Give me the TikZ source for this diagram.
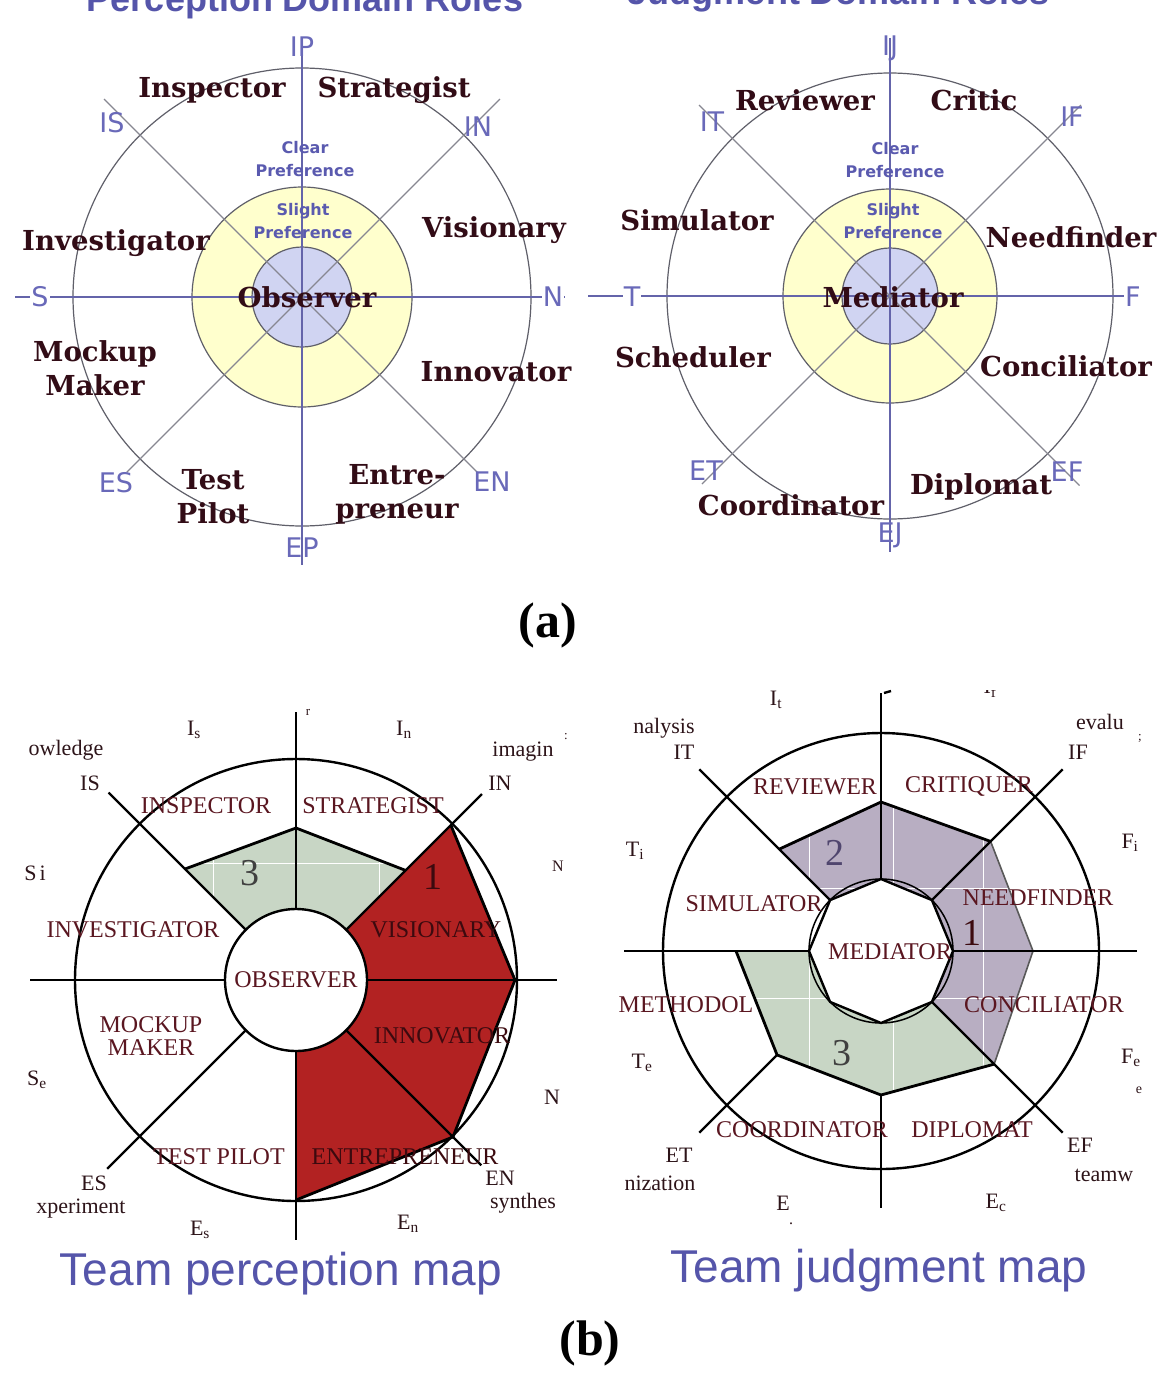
\documentclass[tikz,border=0pt]{standalone}
\usepackage{fontspec}
\setmainfont{Liberation Serif}
\newfontfamily\rolefont{DejaVu Serif}
\newfontfamily\axfont{DejaVu Sans}
\newfontfamily\hfont{Liberation Sans}
\usetikzlibrary{calc}

\definecolor{rolecol}{RGB}{50,12,22}
\definecolor{axcol}{RGB}{105,105,185}
\definecolor{prefcol}{RGB}{90,90,175}
\definecolor{titcol}{RGB}{85,85,170}
\definecolor{ringY}{RGB}{255,255,205}
\definecolor{ringB}{RGB}{208,212,242}
\definecolor{axline}{RGB}{100,100,170}
\definecolor{diagline}{RGB}{135,135,145}
\definecolor{circline}{RGB}{95,95,105}
\definecolor{redfill}{RGB}{178,34,34}
\definecolor{greenfill}{RGB}{200,214,197}
\definecolor{purpfill}{RGB}{184,174,194}
\definecolor{blabcol}{RGB}{90,22,32}
\definecolor{onred}{RGB}{60,10,15}
\definecolor{baxcol}{RGB}{45,20,25}

\tikzset{
  rolelab/.style={font=\rolefont\bfseries\fontsize{27.5}{34}\selectfont, text=rolecol, align=center, inner sep=0pt},
  axlab/.style={font=\axfont\fontsize{27}{29}\selectfont, text=axcol, inner sep=0pt},
  preflab/.style={font=\axfont\bfseries\fontsize{16}{23}\selectfont, text=prefcol, align=center, inner sep=0pt},
  maplab/.style={font=\fontsize{24}{23}\selectfont, text=blabcol, align=center, inner sep=0pt},
  redlab/.style={maplab, text=onred},
  mapax/.style={font=\fontsize{22}{24}\selectfont, text=baxcol, inner sep=0pt},
  numlab/.style={font=\fontsize{38}{38}\selectfont, inner sep=0pt},
  topaxis/.style={draw=axline, line width=1.3pt},
  topdiag/.style={draw=diagline, line width=1.1pt},
  topcirc/.style={draw=circline, line width=1.2pt},
  mapline/.style={draw=black, line width=2.4pt},
  mapedge/.style={draw=black, line width=2.8pt, line join=round},
  softedge/.style={draw=black!65, line width=1.6pt, line join=round},
  gridw/.style={draw=white, line width=0.9pt},
  captxt/.style={font=\hfont\fontsize{46}{46}\selectfont, text=titcol, inner sep=0pt},
  headtxt/.style={font=\hfont\bfseries\fontsize{36}{36}\selectfont, text=titcol, inner sep=0pt},
  paneltxt/.style={font=\bfseries\fontsize{50}{50}\selectfont, inner sep=0pt},
}

\begin{document}
\begin{tikzpicture}[x=1pt,y=-1pt]
\useasboundingbox (0,0) rectangle (1172,1397);
\fill[white] (0,0) rectangle (1172,1397);

% ================= titles (cut at the top edge, as in the reference) =================
\node[headtxt, anchor=base] (hdP) at (305,12) {Perception Domain Roles};
\node[headtxt, anchor=base] (hdJ) at (839,5) {Judgment Domain Roles};

% ================= top-left wheel =================
\begin{scope}[shift={(302,297)}]
  \fill[ringY] (0,0) circle[radius=110pt];
  \draw[topcirc] (0,0) circle[radius=110pt];
  \filldraw[fill=ringB, topcirc] (0,0) circle[radius=50pt];
  \draw[topcirc] (0,0) circle[radius=229pt];
  \draw[topaxis] (0,-259) -- (0,268);
  \draw[topaxis] (-287,0) -- (263,0);
  \draw[topdiag] (225:280) -- (45:248);
  \draw[topdiag] (315:280) -- (135:248);
\end{scope}
\node[axlab] (tlIP) at (302,47) {IP};
\node[axlab] (tlIS) at (112,123) {IS};
\node[axlab] (tlIN) at (478,127) {IN};
\node[axlab, fill=white, inner sep=1pt] (tlS) at (40,297) {S};
\node[axlab, fill=white, inner sep=1pt] (tlN) at (553,297) {N};
\node[axlab] (tlES) at (116,483) {ES};
\node[axlab] (tlEN) at (492,482) {EN};
\node[axlab] (tlEP) at (302,548) {EP};
\node[preflab] (tlclear) at (305,159) {Clear\\Preference};
\node[preflab] (tlslight) at (303,221) {Slight\\Preference};
\node[rolelab] (tlinsp) at (212,90) {Inspector};
\node[rolelab] (tlstrat) at (394,90) {Strategist};
\node[rolelab] (tlinv) at (116,243) {Investigator};
\node[rolelab] (tlvis) at (494,230) {Visionary};
\node[rolelab] (tlobs) at (307,297) {Observer};
\node[rolelab] (tlmock) at (95,368) {Mockup\\Maker};
\node[rolelab] (tlinno) at (496,372) {Innovator};
\node[rolelab] (tltest) at (213,497) {Test\\Pilot};
\node[rolelab] (tlentre) at (397,494) {Entre-\\preneur};

% ================= top-right wheel =================
\begin{scope}[shift={(890,296)}]
  \fill[ringY] (0,0) circle[radius=107pt];
  \draw[topcirc] (0,0) circle[radius=107pt];
  \filldraw[fill=ringB, topcirc] (0,0) circle[radius=48pt];
  \draw[topcirc] (0,0) circle[radius=223pt];
  \draw[topaxis] (0,-258) -- (0,256);
  \draw[topaxis] (-302,0) -- (252,0);
  \draw[topdiag] (225:270) -- (45:268);
  \draw[topdiag] (315:270) -- (135:266);
\end{scope}
\node[axlab] (trIJ) at (890,48) {IJ};
\node[axlab] (trIT) at (712,122) {IT};
\node[axlab] (trIF) at (1072,117) {IF};
\node[axlab, fill=white, inner sep=1pt] (trT) at (632,297) {T};
\node[axlab, fill=white, inner sep=1pt] (trF) at (1133,297) {F};
\node[axlab] (trET) at (706,471) {ET};
\node[axlab] (trEF) at (1067,472) {EF};
\node[axlab] (trEJ) at (890,535) {EJ};
\node[preflab] (trclear) at (895,160) {Clear\\Preference};
\node[preflab] (trslight) at (893,221) {Slight\\Preference};
\node[rolelab] (trrev) at (805,100) {Reviewer};
\node[rolelab] (trcrit) at (974,100) {Critic};
\node[rolelab] (trsim) at (697,220) {Simulator};
\node[rolelab] (trneed) at (1071,237) {Needfinder};
\node[rolelab] (trmed) at (893,297) {Mediator};
\node[rolelab] (trsched) at (693,357) {Scheduler};
\node[rolelab] (trconc) at (1066,366) {Conciliator};
\node[rolelab] (trdipl) at (981,487) {Diplomat};
\node[rolelab] (trcoord) at (791,505) {Coordinator};

\node[paneltxt] (pa) at (548,625) {(a)};

% ================= bottom-left map (perception) =================
\begin{scope}[shift={(296,980)}]
  \fill[greenfill] (225:71) -- (225:157) -- (270:152) -- (315:155) -- (315:71) -- (270:71) -- cycle;
  \begin{scope}
    \clip (225:71) -- (225:157) -- (270:152) -- (315:155) -- (315:71) -- (270:71) -- cycle;
    \draw[gridw] (-200,-117) -- (200,-117);
    \draw[gridw] (-83,-200) -- (-83,0);
    \draw[gridw] (83,-200) -- (83,0);
  \end{scope}
  \fill[redfill] (315:71) -- (315:219) -- (0:219) -- (45:222) -- (90:220) -- (90:71) -- (45:71) -- (0:71) -- cycle;
  \draw[mapline] (0,0) circle[radius=221pt];
  \draw[mapedge] (225:157) -- (270:152) -- (315:155);
  \draw[mapedge] (315:219) -- (0:219) -- (45:222) -- (90:220);
  \draw[mapline] (270:71) -- (0,-268);
  \draw[mapline] (90:71) -- (0,260);
  \draw[mapline] (-266,0) -- (-71,0);
  \draw[mapline] (71,0) -- (261,0);
  \draw[mapline] (225:71) -- (225:265);
  \draw[mapline] (315:71) -- (315:263);
  \draw[mapline] (45:71) -- (45:262);
  \draw[mapline] (135:71) -- (135:267);
  \filldraw[fill=white, mapline] (0,0) circle[radius=71pt];
\end{scope}
\node[mapax] (blIs) at (194,730) {I\textsubscript{s}};
\node[mapax] (blIn) at (404,730) {I\textsubscript{n}};
\node[mapax, font=\fontsize{13}{13}\selectfont] (blfr) at (308,712) {r};
\node[mapax] (blknow) at (66,750) {owledge};
\node[mapax] (blimag) at (523,752) {imagin};
\node[mapax, font=\fontsize{13}{13}\selectfont] (blcol) at (566,737) {:};
\node[mapax] (blIS) at (90,783) {IS};
\node[mapax] (blIN) at (500,783) {IN};
\node[mapax] (blSi) at (35,873) {S\hspace{3pt}i};
\node[mapax, font=\fontsize{16}{16}\selectfont] (blNi) at (558,866) {N};
\node[mapax] (blSe) at (37,1080) {S\textsubscript{e}};
\node[mapax] (blN) at (552,1097) {N};
\node[mapax] (blES) at (94,1183) {ES};
\node[mapax] (blexp) at (81,1209) {xperiment};
\node[mapax] (blEN) at (500,1178) {EN};
\node[mapax] (blsyn) at (523,1203) {synthes};
\node[mapax] (blEs) at (200,1230) {E\textsubscript{s}};
\node[mapax] (blEn) at (408,1224) {E\textsubscript{n}};
\node[maplab] (blinsp) at (206,806) {INSPECTOR};
\node[maplab] (blstrat) at (373,806) {STRATEGIST};
\node[maplab] (blinv) at (133,930) {INVESTIGATOR};
\node[redlab] (blvis) at (436,930) {VISIONARY};
\node[maplab] (blobs) at (296,980) {OBSERVER};
\node[maplab] (blmock) at (151,1036) {MOCKUP\\MAKER};
\node[redlab] (blinno) at (442,1036) {INNOVATOR};
\node[maplab] (bltest) at (219,1157) {TEST PILOT};
\node[redlab] (blentre) at (405,1157) {ENTREPRENEUR};
\node[numlab, text=black!75] (bln3) at (250,873) {3};
\node[numlab, text=onred] (bln1) at (433,877) {1};

\node[captxt, anchor=base] (capP) at (281,1285) {Team perception map};

% ================= bottom-right map (judgment) =================
\begin{scope}[shift={(881,951)}]
  \fill[purpfill] (225:72) -- (225:144) -- (270:149) -- (315:155) -- (315:72) -- (270:72) -- cycle;
  \fill[purpfill] (315:72) -- (315:155) -- (0:152) -- (45:160) -- (45:72) -- (0:72) -- cycle;
  \fill[greenfill] (180:72) -- (180:145) -- (135:147) -- (90:144) -- (45:160) -- (45:72) -- (90:72) -- (135:72) -- cycle;
  \begin{scope}
    \clip (225:72) -- (225:144) -- (270:149) -- (315:155) -- (0:152) -- (45:160) -- (90:144) -- (135:147) -- (180:145) -- (180:72) -- (225:72) -- cycle;
    \draw[gridw] (-200,-63) -- (200,-63);
    \draw[gridw] (-200,47) -- (200,47);
    \draw[gridw] (-72,-200) -- (-72,200);
    \draw[gridw] (12,-200) -- (12,200);
    \draw[gridw] (102,-200) -- (102,200);
  \end{scope}
  \draw[mapline] (0,0) circle[radius=218pt];
  \draw[mapedge] (225:144) -- (270:149) -- (315:155);
  \draw[softedge] (315:155) -- (0:152) -- (45:160);
  \draw[mapedge] (180:145) -- (135:147) -- (90:144) -- (45:160);
  \draw[mapline] (270:72) -- (0,-258);
  \draw[mapline] (3,-258) -- (10,-260);
  \draw[mapline] (90:144) -- (0,257);
  \draw[mapline] (-257,0) -- (180:72);
  \draw[mapline] (0:72) -- (256,0);
  \draw[mapline] (225:72) -- (225:257);
  \draw[mapline] (315:72) -- (315:257);
  \draw[mapline] (45:72) -- (45:257);
  \draw[mapline] (135:147) -- (135:257);
  \draw[draw=black, line width=1.5pt] (0,0) circle[radius=72pt];
  \filldraw[fill=white, mapline, line join=round] (0:72) -- (45:72) -- (90:72) -- (135:72) -- (180:72) -- (225:72) -- (270:72) -- (315:72) -- cycle;
\end{scope}
\node[mapax] (brIt) at (776,700) {I\textsubscript{t}};
\begin{scope}
  \clip (900,690) rectangle (1100,760);
  \node[mapax] (brIf) at (990,688) {I\textsubscript{f}};
\end{scope}
\node[mapax] (branal) at (664,728) {nalysis};
\node[mapax] (breval) at (1100,722) {evalu};
\node[mapax, font=\fontsize{13}{13}\selectfont] (brevfr) at (1140,738) {;};
\node[mapax] (brIT) at (684,752) {IT};
\node[mapax] (brIF) at (1078,752) {IF};
\node[mapax] (brTi) at (635,851) {T\textsubscript{i}};
\node[mapax] (brFi) at (1130,843) {F\textsubscript{i}};
\node[mapax] (brTe) at (642,1063) {T\textsubscript{e}};
\node[mapax] (brFe) at (1131,1058) {F\textsubscript{e}};
\node[mapax, font=\fontsize{14}{14}\selectfont] (brFee) at (1139,1090) {e};
\node[mapax] (brET) at (679,1155) {ET};
\node[mapax] (brniz) at (660,1183) {nization};
\node[mapax] (brEF) at (1080,1145) {EF};
\node[mapax] (brteam) at (1104,1175) {teamw};
\node[mapax] (brEt) at (783,1203) {E};
\node[mapax, font=\fontsize{16}{16}\selectfont] (brEtd) at (791,1224) {.};
\node[mapax] (brEc) at (996,1203) {E\textsubscript{c}};
\node[maplab] (brrev) at (815,787) {REVIEWER};
\node[maplab] (brcrit) at (969,786) {CRITIQUER};
\node[maplab] (brsim) at (754,904) {SIMULATOR};
\node[maplab] (brneed) at (1038,898) {NEEDFINDER};
\node[maplab] (brmed) at (890,952) {MEDIATOR};
\node[maplab] (brmeth) at (686,1005) {METHODOL};
\node[maplab] (brconc) at (1044,1005) {CONCILIATOR};
\node[maplab] (brcoord) at (802,1130) {COORDINATOR};
\node[maplab] (brdipl) at (972,1130) {DIPLOMAT};
\node[numlab, text={rgb,255:red,80;green,70;blue,110}] (brn2) at (835,853) {2};
\node[numlab, text=onred] (brn1) at (972,933) {1};
\node[numlab, text=black!75] (brn3) at (842,1053) {3};

\node[captxt, anchor=base] (capJ) at (879,1282) {Team judgment map};

\node[paneltxt] (pb) at (590,1343) {(b)};
\end{tikzpicture}
\end{document}
